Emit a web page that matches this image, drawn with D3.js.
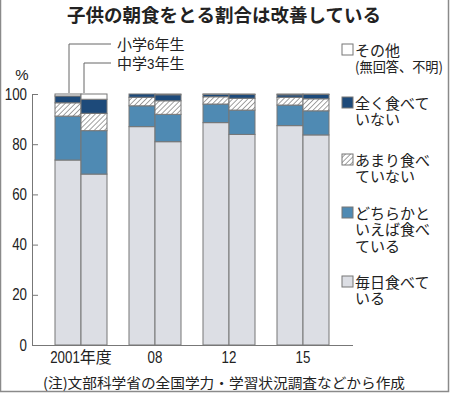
<!DOCTYPE html>
<html>
<head>
<meta charset="utf-8">
<script src="https://cdn.jsdelivr.net/npm/d3@7"></script>
<style>
  body { margin: 0; background: #fff; }
  svg { display: block; }
</style>
</head>
<body>
<div id="chart"></div>
<script>
// years and grades
var years = ["2001年度", "08", "12", "15"];
var grades = ["小学6年生", "中学3年生"];

// stack order, bottom to top
var categories = ["毎日食べている", "どちらかといえば食べている", "あまり食べていない", "全く食べていない", "その他"];

// values per bar: [2001 elem, 2001 mid, 08 elem, 08 mid, 12 elem, 12 mid, 15 elem, 15 mid]
var everyday  = [73.7, 68.1, 87.0, 81.0, 88.6, 83.9, 87.4, 83.7];
var ratherYes = [17.5, 17.3,  8.3, 10.9,  7.4,  9.7,  8.2,  9.6];
var ratherNo  = [ 5.3,  6.9,  3.4,  5.4,  2.9,  4.7,  3.1,  4.8];
var notAtAll  = [ 2.7,  5.6,  1.3,  2.4,  1.0,  1.5,  1.0,  1.7];
var other     = [ 0.8,  2.1,  0.0,  0.3,  0.1,  0.2,  0.3,  0.2];

var yTicks = [0, 20, 40, 60, 80, 100];

// legend labels, top to bottom
var legendItems = [
  { key: "その他", lines: ["その他", "(無回答、不明)"], y: 50 },
  { key: "全く食べていない", lines: ["全く食べて", "いない"], y: 103 },
  { key: "あまり食べていない", lines: ["あまり食べ", "ていない"], y: 160 },
  { key: "どちらかといえば食べている", lines: ["どちらかと", "いえば食べ", "ている"], y: 213 },
  { key: "毎日食べている", lines: ["毎日食べて", "いる"], y: 282 }
];

var W = 450, H = 393;
var numFont = "'Liberation Sans', Arial, sans-serif";
var jpFont = "'Noto Sans CJK JP', sans-serif";
var digitW = 7.4; // narrow digits like the print font

var svg = d3.select("#chart").append("svg")
  .attr("width", W)
  .attr("height", H);

// writes a label with squeezed digits and normal kanji
function narrowText(sel, str) {
  sel.text(null);
  var parts = str.match(/[0-9]+|[^0-9]+/g);
  parts.forEach(function(p) {
    var ts = sel.append("tspan").text(p);
    if (/^[0-9]+$/.test(p)) {
      ts.attr("font-family", numFont)
        .attr("textLength", p.length * digitW)
        .attr("lengthAdjust", "spacingAndGlyphs");
    } else {
      ts.attr("font-family", jpFont);
    }
  });
}

// hatch pattern
var defs = svg.append("defs");
var pat = defs.append("pattern")
  .attr("id", "hatch")
  .attr("patternUnits", "userSpaceOnUse")
  .attr("width", 3.6)
  .attr("height", 3.6)
  .attr("patternTransform", "rotate(45)");
pat.append("rect").attr("width", 3.6).attr("height", 3.6).attr("fill", "#fff");
pat.append("line")
  .attr("x1", 0).attr("y1", 0).attr("x2", 0).attr("y2", 3.6)
  .attr("stroke", "#555").attr("stroke-width", 1.1);

var color = d3.scaleOrdinal()
  .domain(categories)
  .range(["#dcdee4", "#4f8ab3", "url(#hatch)", "#1d4a7a", "#ffffff"]);

// frame
svg.append("path")
  .attr("d", "M0.5,0 V" + (H - 1.5) + " H" + (W - 1.5) + " V0")
  .attr("fill", "none")
  .attr("stroke", "#8a8a8a")
  .attr("stroke-width", 1.5);

// title
svg.append("text")
  .attr("x", 224)
  .attr("y", 22)
  .attr("text-anchor", "middle")
  .attr("font-family", jpFont)
  .attr("font-weight", "bold")
  .attr("font-size", "18.5px")
  .attr("fill", "#222")
  .text("子供の朝食をとる割合は改善している");

// scales
var x0 = d3.scaleBand()
  .domain(years)
  .range([55, 329])
  .paddingInner(22 / 74);

var x1 = d3.scaleBand()
  .domain(grades)
  .range([0, x0.bandwidth()]);

var y = d3.scaleLinear()
  .domain([0, 100])
  .range([345, 94]);

// build rows for stacking
var series = [everyday, ratherYes, ratherNo, notAtAll, other];
var rows = [];
years.forEach(function(yr, i) {
  grades.forEach(function(g, j) {
    var idx = i * 2 + j;
    var row = { year: yr, grade: g };
    categories.forEach(function(c, k) { row[c] = series[k][idx]; });
    rows.push(row);
  });
});

var stacked = d3.stack().keys(categories)(rows);

var layers = svg.append("g").selectAll("g")
  .data(stacked)
  .enter().append("g")
  .attr("fill", function(d) { return color(d.key); });

layers.selectAll("rect")
  .data(function(d) { return d; })
  .enter().append("rect")
  .attr("x", function(d) { return x0(d.data.year) + x1(d.data.grade); })
  .attr("y", function(d) { return y(d[1]); })
  .attr("width", x1.bandwidth())
  .attr("height", function(d) { return y(d[0]) - y(d[1]); })
  .attr("stroke", "#777")
  .attr("stroke-width", 1);

// y axis
var yAxis = d3.axisLeft(y)
  .tickValues(yTicks)
  .tickSize(-6)
  .tickPadding(5)
  .tickFormat(d3.format("d"));

var gy = svg.append("g")
  .attr("transform", "translate(32,0)")
  .call(yAxis);
gy.select(".domain").attr("stroke", "#777");
gy.selectAll(".tick line").attr("stroke", "#777");
gy.selectAll(".tick text")
  .attr("font-family", numFont)
  .attr("font-size", "16px")
  .attr("fill", "#222")
  .attr("textLength", function(d) { return String(d).length * digitW; })
  .attr("lengthAdjust", "spacingAndGlyphs");

svg.append("text")
  .attr("x", 22)
  .attr("y", 80)
  .attr("text-anchor", "middle")
  .attr("font-family", numFont)
  .attr("font-size", "15px")
  .attr("fill", "#222")
  .text("%");

// x axis
var xAxis = d3.axisBottom(x0).tickSize(0).tickPadding(7);
var gx = svg.append("g")
  .attr("transform", "translate(0,345)")
  .call(xAxis);
gx.select(".domain").attr("d", "M32,0.5H353").attr("stroke", "#777");
gx.selectAll(".tick text")
  .attr("font-size", "16px")
  .attr("fill", "#222")
  .each(function(d) { narrowText(d3.select(this), d); });

// grade callouts on first group
var calloutY = [44, 63];
grades.forEach(function(g, j) {
  var cx = x0(years[0]) + x1(g) + x1.bandwidth() / 2 + (j === 0 ? 1 : -10);
  svg.append("path")
    .attr("d", "M" + cx + "," + (y(100) - 1) + " V" + calloutY[j] + " H111")
    .attr("fill", "none")
    .attr("stroke", "#666")
    .attr("stroke-width", 1);
  svg.append("text")
    .attr("x", 117)
    .attr("y", calloutY[j] + 5.5)
    .attr("font-size", "15px")
    .attr("fill", "#222")
    .call(narrowText, g);
});

// legend
var lg = svg.append("g").selectAll("g")
  .data(legendItems)
  .enter().append("g");

lg.append("rect")
  .attr("x", 342)
  .attr("y", function(d) { return d.y - 6; })
  .attr("width", 11)
  .attr("height", 11)
  .attr("fill", function(d) { return color(d.key); })
  .attr("stroke", "#777")
  .attr("stroke-width", 1);

lg.each(function(d) {
  var g = d3.select(this);
  d.lines.forEach(function(line, i) {
    var t = g.append("text")
      .attr("x", 355)
      .attr("y", d.y + 5.5 + i * 16.5)
      .attr("font-family", jpFont)
      .attr("font-size", "15px")
      .attr("fill", "#222")
      .text(line);
    if (line.charAt(0) === "(") {
      t.attr("font-size", "14px")
        .attr("textLength", 88)
        .attr("lengthAdjust", "spacingAndGlyphs");
    }
  });
});

// footnote
svg.append("text")
  .attr("x", 224)
  .attr("y", 388)
  .attr("text-anchor", "middle")
  .attr("font-family", jpFont)
  .attr("font-size", "14px")
  .attr("fill", "#222")
  .attr("textLength", 362)
  .attr("lengthAdjust", "spacingAndGlyphs")
  .text("(注)文部科学省の全国学力・学習状況調査などから作成");
</script>
</body>
</html>
